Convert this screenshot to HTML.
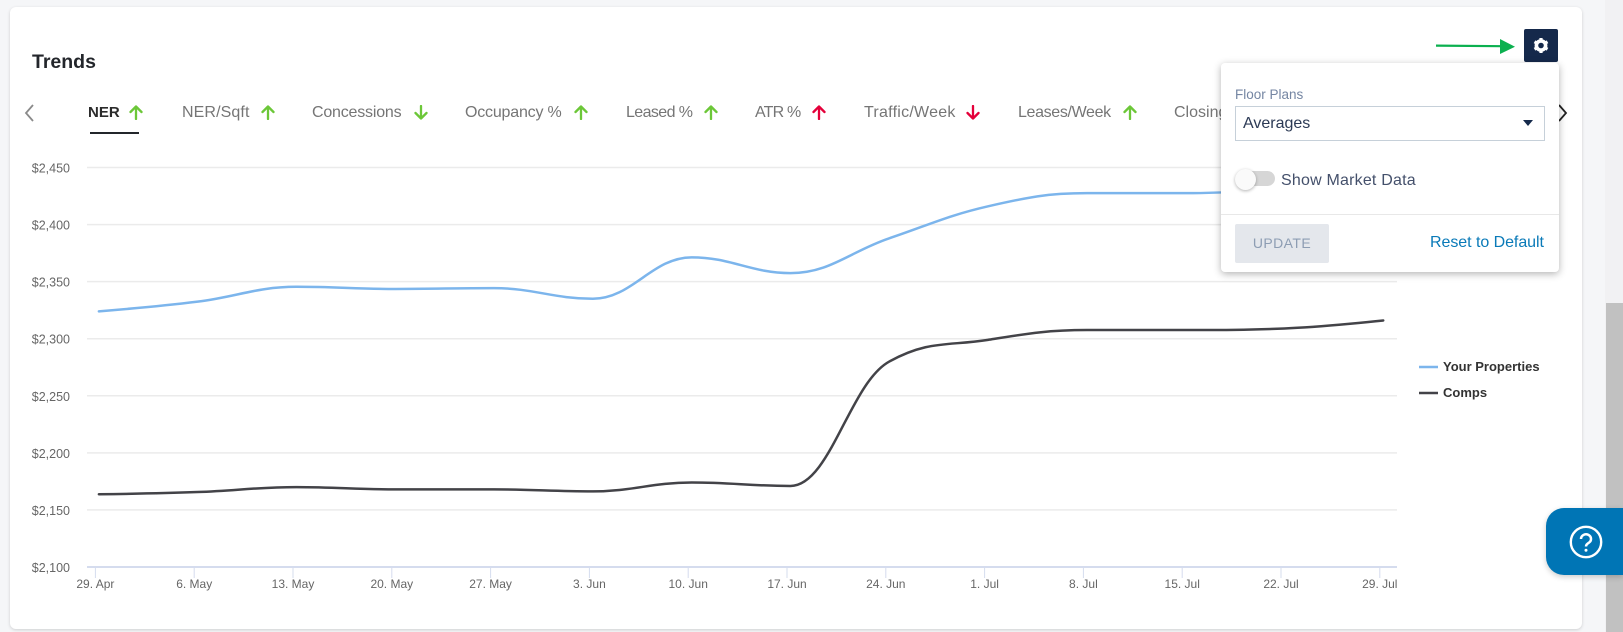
<!DOCTYPE html>
<html lang="en">
<head>
<meta charset="utf-8">
<title>Trends</title>
<style>
html,body{margin:0;padding:0;width:1623px;height:632px;overflow:hidden;background:#f5f6f8;font-family:"Liberation Sans",sans-serif}
#page{position:relative;width:1623px;height:632px;overflow:hidden}
.a{position:absolute}
.t{position:absolute;white-space:nowrap}
.tab{position:absolute;top:103px;height:20px;line-height:20px;font-size:16px;color:#757575;white-space:nowrap}
.arr{position:absolute;top:105px;width:14px;height:15px}
.arr path{fill:none;stroke-width:2.3;stroke-linecap:round;stroke-linejoin:round}
.up path{stroke:#6cc738}
.dn path{stroke:#6cc738}
.red path{stroke:#e4003a}
svg text{font-family:"Liberation Sans",sans-serif}
</style>
</head>
<body>
<div id="page">
  <div class="a" style="left:1605px;top:0;width:18px;height:632px;background:#f1f1f3"></div>
  <div class="a" style="left:1606px;top:303px;width:17px;height:329px;background:#c1c1c1"></div>
  <div class="a" style="left:10px;top:7px;width:1572px;height:622px;background:#fff;border-radius:6px;box-shadow:0 1px 3px rgba(0,0,0,.16)"></div>

  <div class="t" style="left:32px;top:48px;font-size:19.5px;line-height:24px;font-weight:bold;color:#23262b;margin-top:2px">Trends</div>

  <svg class="a" style="left:22px;top:103px" width="14" height="20"><path d="M11 2 L4 10 L11 18" fill="none" stroke="#8a8a8a" stroke-width="1.8"/></svg>

  <div class="tab" style="left:88px;font-weight:bold;font-size:15px;color:#2b2b2b">NER</div>
  <svg class="arr up" style="left:129px" viewBox="0 0 14 15"><path d="M7 14V1.5M1.5 7L7 1.5L12.5 7"/></svg>
  <div class="a" style="left:90px;top:132px;width:49px;height:2px;background:#23262b"></div>

  <div class="tab" style="left:182px;letter-spacing:.1px">NER/Sqft</div>
  <svg class="arr up" style="left:261px" viewBox="0 0 14 15"><path d="M7 14V1.5M1.5 7L7 1.5L12.5 7"/></svg>

  <div class="tab" style="left:312px;letter-spacing:-.2px">Concessions</div>
  <svg class="arr dn" style="left:414px" viewBox="0 0 14 15"><path d="M7 1V13.5M1.5 8L7 13.5L12.5 8"/></svg>

  <div class="tab" style="left:465px;letter-spacing:-.2px">Occupancy %</div>
  <svg class="arr up" style="left:574px" viewBox="0 0 14 15"><path d="M7 14V1.5M1.5 7L7 1.5L12.5 7"/></svg>

  <div class="tab" style="left:626px;letter-spacing:-.6px">Leased %</div>
  <svg class="arr up" style="left:704px" viewBox="0 0 14 15"><path d="M7 14V1.5M1.5 7L7 1.5L12.5 7"/></svg>

  <div class="tab" style="left:755px;letter-spacing:-.8px">ATR %</div>
  <svg class="arr red" style="left:812px" viewBox="0 0 14 15"><path d="M7 14V1.5M1.5 7L7 1.5L12.5 7"/></svg>

  <div class="tab" style="left:864px;letter-spacing:.25px">Traffic/Week</div>
  <svg class="arr red" style="left:966px" viewBox="0 0 14 15"><path d="M7 1V13.5M1.5 8L7 13.5L12.5 8"/></svg>

  <div class="tab" style="left:1018px;letter-spacing:-.35px">Leases/Week</div>
  <svg class="arr up" style="left:1123px" viewBox="0 0 14 15"><path d="M7 14V1.5M1.5 7L7 1.5L12.5 7"/></svg>

  <div class="tab" style="left:1174px">Closing</div>

  <svg class="a" style="left:1555px;top:103px" width="14" height="20"><path d="M4 2 L11 10 L4 18" fill="none" stroke="#222" stroke-width="1.8"/></svg>

  <svg id="chart" class="a" style="left:0;top:0" width="1623" height="632"></svg>

  <svg class="a" style="left:1430px;top:34px" width="90" height="24"><path d="M6 11.6 L72 12.2" stroke="#0bb04f" stroke-width="2.2" fill="none"/><path d="M70 5 L85 12.8 L70 20 Z" fill="#0bb04f"/></svg>

  <div class="a" style="left:1524px;top:29px;width:34px;height:33px;background:#15294b;border-radius:2px">
    <svg width="34" height="33" viewBox="0 0 34 33" style="display:block">
      <circle cx="17" cy="16.5" r="4.6" fill="none" stroke="#fff" stroke-width="3.6"/>
      <g stroke="#fff" stroke-width="3.2">
        <path d="M17 9V12"/><path d="M17 21V24"/>
        <path d="M10.5 12.75L13.1 14.25"/><path d="M20.9 18.75L23.5 20.25"/>
        <path d="M10.5 20.25L13.1 18.75"/><path d="M20.9 14.25L23.5 12.75"/>
      </g>
    </svg>
  </div>

  <div class="a" style="left:1221px;top:63px;width:338px;height:209px;background:#fff;border-radius:4px;box-shadow:0 2px 8px rgba(0,0,0,.3)">
    <div class="t" style="left:14px;top:24px;font-size:13.5px;line-height:16px;color:#7586a3">Floor Plans</div>
    <div class="a" style="left:14px;top:43px;width:308px;height:33px;border:1px solid #c6d0d9;background:#fff">
      <div class="t" style="left:7px;top:7px;font-size:16px;line-height:20px;color:#2c3a55">Averages</div>
      <div class="a" style="left:287px;top:13px;width:0;height:0;border-left:5.5px solid transparent;border-right:5.5px solid transparent;border-top:6px solid #15294b"></div>
    </div>
    <div class="a" style="left:15px;top:108px;width:39px;height:15px;border-radius:8px;background:#d6d6d6"></div>
    <div class="a" style="left:14px;top:106px;width:21px;height:21px;border-radius:50%;background:#fafafa;box-shadow:0 1px 3px rgba(0,0,0,.3)"></div>
    <div class="t" style="left:60px;top:108px;font-size:16px;line-height:20px;letter-spacing:.2px;color:#44506b">Show Market Data</div>
    <div class="a" style="left:0;top:151px;width:338px;height:1px;background:#e8e8e8"></div>
    <div class="a" style="left:14px;top:161px;width:94px;height:39px;border-radius:2px;background:#e4e7ec;color:#8d9db3;font-size:14px;line-height:39px;text-align:center;letter-spacing:.4px">UPDATE</div>
    <div class="t" style="left:209px;top:170px;font-size:16px;line-height:20px;letter-spacing:-.05px;color:#0a7ab8">Reset to Default</div>
  </div>

  <div class="a" style="left:1546px;top:508px;width:77px;height:67px;background:#0075b5;border-radius:18px 0 0 18px;box-shadow:0 2px 6px rgba(0,0,0,.2)">
    <svg width="77" height="67" viewBox="0 0 77 67" style="display:block">
      <circle cx="40" cy="34" r="15.2" fill="none" stroke="#fff" stroke-width="2.4"/>
      <path d="M35 31a5 4.6 0 1 1 8 3.6c-1.8 1.3-3 1.9-3 3.9" fill="none" stroke="#fff" stroke-width="2.5"/>
      <circle cx="40" cy="42.2" r="1.5" fill="#fff"/>
    </svg>
  </div>
</div>

<script>
var categories = ["29. Apr","6. May","13. May","20. May","27. May","3. Jun","10. Jun","17. Jun","24. Jun","1. Jul","8. Jul","15. Jul","22. Jul","29. Jul"];
var yourProperties = [2324,2332.5,2345.5,2343.6,2344.3,2335,2371.3,2357.5,2388,2416,2427.5,2427.5,2431,2436];
var comps = [2163.7,2165.7,2170,2168,2168,2166.3,2174,2171,2280,2299,2307.6,2307.6,2309,2316];
var yTicks = [2100,2150,2200,2250,2300,2350,2400,2450];
var seriesNames = ["Your Properties","Comps"];

(function(){
  var NS = "http://www.w3.org/2000/svg";
  var svg = document.getElementById("chart");
  var plotLeft = 87, plotRight = 1397, plotBottom = 567, pxPerDollar = 399.5 / 350;
  var tickStart = 95.4, tickStep = 98.8, pointOffset = 0.035;
  function yScale(v){ return plotBottom - (v - yTicks[0]) * pxPerDollar; }
  function xScale(w){ return tickStart + w * tickStep; }
  function make(tag, attrs, parent){
    var el = document.createElementNS(NS, tag);
    for (var k in attrs) el.setAttribute(k, attrs[k]);
    (parent || svg).appendChild(el);
    return el;
  }
  yTicks.forEach(function(v, i){
    if (i > 0) {
      var g = make("line", {x1: plotLeft, x2: plotRight, y1: yScale(v), y2: yScale(v), stroke: "#ebebeb", "stroke-width": 1.5});
      
      
    }
    var t = make("text", {x: 70, y: yScale(v) + 5, "text-anchor": "end", "font-size": "12.5", fill: "#666"});
    
    
    t.textContent = "$" + String(v).replace(/(\d)(\d{3})$/, "$1,$2");
  });
  var ax = make("line", {x1: plotLeft, x2: plotRight, y1: plotBottom, y2: plotBottom, stroke: "#d5dcee", "stroke-width": 2});
  
  
  categories.forEach(function(c, i){
    var x = xScale(i);
    var tk = make("line", {x1: x, x2: x, y1: plotBottom, y2: plotBottom + 11, stroke: "#d5dcee", "stroke-width": 1});
    
    
    var t = make("text", {x: x, y: 588, "text-anchor": "middle", "font-size": "12", fill: "#666"});
    
    
    t.textContent = c;
  });
  function splinePath(values){
    var pts = values.map(function(v, i){ return [xScale(i + pointOffset), yScale(v)]; });
    var d = "M" + pts[0][0] + " " + pts[0][1];
    function controls(i){
      var p = pts[i], l = pts[i - 1], n = pts[i + 1];
      if (!l || !n) return {lx: p[0], ly: p[1], rx: p[0], ry: p[1]};
      var s = 1.5, den = 2.5;
      var lx = (s * p[0] + l[0]) / den, ly = (s * p[1] + l[1]) / den;
      var rx = (s * p[0] + n[0]) / den, ry = (s * p[1] + n[1]) / den;
      var c = ((ry - ly) * (rx - p[0])) / (rx - lx) + p[1] - ry;
      ly += c; ry += c;
      if (ly > l[1] && ly > p[1]) { ly = Math.max(l[1], p[1]); ry = 2 * p[1] - ly; }
      else if (ly < l[1] && ly < p[1]) { ly = Math.min(l[1], p[1]); ry = 2 * p[1] - ly; }
      if (ry > n[1] && ry > p[1]) { ry = Math.max(n[1], p[1]); ly = 2 * p[1] - ry; }
      else if (ry < n[1] && ry < p[1]) { ry = Math.min(n[1], p[1]); ly = 2 * p[1] - ry; }
      return {lx: lx, ly: ly, rx: rx, ry: ry};
    }
    for (var i = 1; i < pts.length; i++) {
      var a = controls(i - 1), b = controls(i);
      d += "C" + a.rx + " " + a.ry + " " + b.lx + " " + b.ly + " " + pts[i][0] + " " + pts[i][1];
    }
    return d;
  }
  var colors = ["#7cb5ec", "#434348"];
  var p1 = make("path", {d: splinePath(yourProperties), fill: "none", stroke: colors[0], "stroke-width": 2.5, "stroke-linejoin": "round", "stroke-linecap": "round"});
  
  
  var p2 = make("path", {d: splinePath(comps), fill: "none", stroke: colors[1], "stroke-width": 2.5, "stroke-linejoin": "round", "stroke-linecap": "round"});
  
  
  seriesNames.forEach(function(name, i){
    var y = 367 + i * 26;
    var g = make("g", {});
    
    
    make("line", {x1: 1419, x2: 1438, y1: y, y2: y, stroke: colors[i], "stroke-width": 2.5}, g);
    var t = make("text", {x: 1443, y: y + 4, "font-size": "13", "font-weight": "bold", fill: "#333"}, g);
    t.textContent = name;
  });
})();
</script>
</body>
</html>
